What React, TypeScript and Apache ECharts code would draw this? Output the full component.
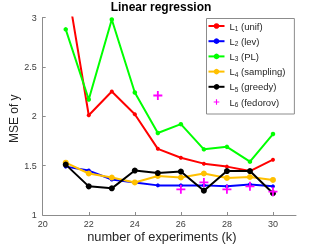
import React, { useEffect, useRef } from "react";
import * as echarts from "echarts";

const experiments = [21, 22, 23, 24, 25, 26, 27, 28, 29, 30];
const unif = [3.41, 2.01, 2.25, 2.02, 1.67, 1.58, 1.52, 1.49, 1.445, 1.56];
const lev = [1.49, 1.45, 1.36, 1.33, 1.3, 1.3, 1.3, 1.29, 1.31, 1.29];
const pl = [2.88, 2.17, 2.98, 2.24, 1.83, 1.92, 1.665, 1.69, 1.54, 1.82];
const sampling = [1.53, 1.42, 1.38, 1.33, 1.395, 1.38, 1.42, 1.375, 1.385, 1.355];
const greedy = [1.51, 1.29, 1.27, 1.45, 1.425, 1.44, 1.246, 1.445, 1.445, 1.22];
const fedorov = [null, null, null, null, 2.21, 1.26, 1.33, 1.26, 1.29, 1.236];
const xTicks = [20, 22, 24, 26, 28, 30];
const seriesNames = ["L1 (unif)", "L2 (lev)", "L3 (PL)", "L4 (sampling)", "L5 (greedy)", "L6 (fedorov)"];

const FONT = "Liberation Sans, Arial, Helvetica, sans-serif";
const PLUS = "path://M4,0H6V4H10V6H6V10H4V6H0V4H4Z";

export default function App() {
  const ref = useRef<HTMLDivElement>(null);
  useEffect(() => {
    if (!ref.current) return;
    const chart = echarts.init(ref.current, null, { renderer: "svg" });
    const pts = (vals: (number | null)[]) => experiments.map((x, i) => [x, vals[i]]);
    const lineSeries = (name: string, vals: (number | null)[], color: string, size: number) => ({
      name,
      type: "line",
      data: pts(vals),
      symbol: "circle",
      symbolSize: size,
      showSymbol: true,
      itemStyle: { color },
      lineStyle: { color, width: 2 },
      emphasis: { disabled: true },
    });
    chart.setOption({
      animation: false,
      textStyle: { fontFamily: FONT },
      title: {
        text: "Linear regression",
        left: 161,
        top: 1,
        padding: 0,
        textAlign: "center",
        textStyle: { fontSize: 12, fontWeight: "bold", color: "#000", fontFamily: FONT },
      },
      grid: { left: 42.7, right: 31, top: 17.5, bottom: 30, outerBoundsMode: "none" },
      legend: {
        orient: "vertical",
        left: 206.5,
        top: 18.5,
        padding: [2.5, 9, 6, 1],
        itemWidth: 16,
        itemHeight: 7,
        itemGap: 4.2,
        backgroundColor: "#fff",
        borderColor: "#8c8c8c",
        borderWidth: 1,
        data: seriesNames,
        formatter: (name: string) => {
          const n = name.charAt(1);
          const rest = name.slice(2);
          return `{m|L}{s|${n}}{m|${rest}}`;
        },
        textStyle: {
          color: "#262626",
          fontFamily: FONT,
          rich: {
            m: { fontSize: 9.5, lineHeight: 12, color: "#262626", fontFamily: FONT },
            s: { fontSize: 6.5, lineHeight: 6, verticalAlign: "bottom", color: "#262626", fontFamily: FONT },
          },
        },
      },
      xAxis: {
        type: "value",
        min: 20,
        max: 31,
        interval: 2,
        name: "number of experiments (k)",
        nameLocation: "middle",
        nameGap: 14.5,
        nameMoveOverlap: false,
        nameTextStyle: { fontSize: 12.8, color: "#262626", padding: [0, 15, 0, 0], fontFamily: FONT },
        axisLine: { show: true, lineStyle: { color: "#8c8c8c", width: 1 } },
        axisTick: { show: true, inside: true, length: 3, lineStyle: { color: "#8c8c8c" }, customValues: xTicks },
        axisLabel: { fontSize: 9, color: "#404040", margin: 4, customValues: xTicks, fontFamily: FONT },
        splitLine: { show: false },
      },
      yAxis: {
        type: "value",
        min: 1,
        max: 3,
        interval: 0.5,
        name: "MSE of y",
        nameLocation: "middle",
        nameGap: 23,
        nameMoveOverlap: false,
        nameTextStyle: { fontSize: 12, color: "#262626", padding: [0, 5, 0, 0], fontFamily: FONT },
        axisLine: { show: true, lineStyle: { color: "#8c8c8c", width: 1 } },
        axisTick: { show: true, inside: true, length: 3, lineStyle: { color: "#8c8c8c" } },
        axisLabel: { fontSize: 9, color: "#404040", margin: 6, fontFamily: FONT },
        splitLine: { show: false },
      },
      series: [
        lineSeries(seriesNames[0], unif, "#ff0000", 4),
        lineSeries(seriesNames[1], lev, "#0000ff", 4),
        lineSeries(seriesNames[2], pl, "#00ff00", 4.5),
        lineSeries(seriesNames[3], sampling, "#ffc000", 6),
        lineSeries(seriesNames[4], greedy, "#000000", 6),
        {
          name: seriesNames[5],
          type: "line",
          data: pts(fedorov),
          symbol: PLUS,
          symbolSize: 9,
          showSymbol: true,
          connectNulls: false,
          itemStyle: { color: "#ff00ff" },
          lineStyle: { opacity: 0, width: 0 },
          emphasis: { disabled: true },
        },
      ],
    });
    return () => chart.dispose();
  }, []);
  return <div ref={ref} style={{ width: 327, height: 245, position: "fixed", left: 0, top: 0 }} />;
}
